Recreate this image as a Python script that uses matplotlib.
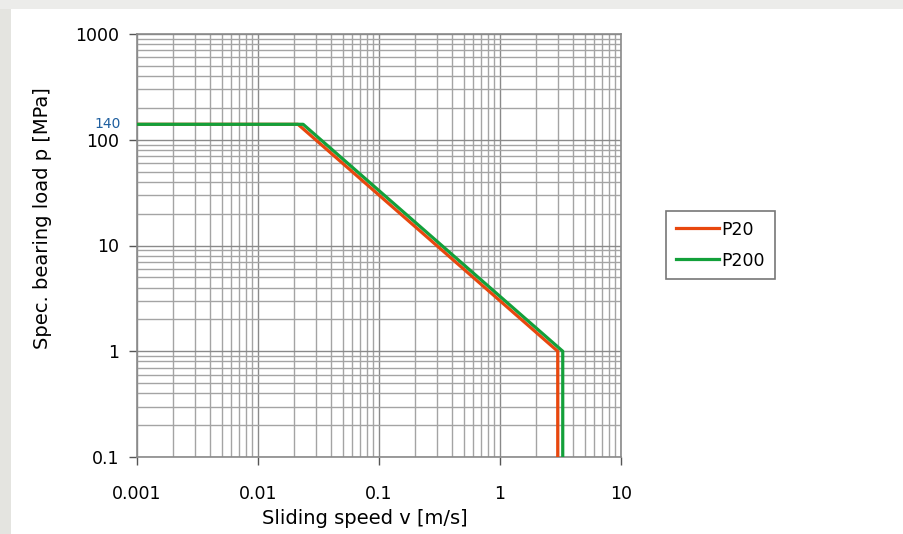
import numpy as np
import matplotlib
matplotlib.use("Agg")
import matplotlib.pyplot as plt
from matplotlib.patches import Rectangle
from matplotlib.ticker import LogLocator, NullFormatter

plt.rcParams['font.family'] = ['DejaVu Sans']

# data
p20_v = [0.001, 0.0214, 3.0, 3.0]
p20_p = [140, 140, 1.0, 0.1]
p200_v = [0.001, 0.0236, 3.3, 3.3]
p200_p = [140, 140, 1.0, 0.1]

x_ticks = [0.001, 0.01, 0.1, 1, 10]
x_labels = ["0.001", "0.01", "0.1", "1", "10"]
y_ticks = [0.1, 1, 10, 100, 1000]
y_labels = ["0.1", "1", "10", "100", "1000"]

fig = plt.figure(figsize=(9.04, 5.34), dpi=100)
fig.patch.set_facecolor('white')
# grey page strips on the left and top
fig.patches.append(Rectangle((0, 0), 11/904, 1, transform=fig.transFigure,
                             facecolor='#e4e4e0', edgecolor='none'))
fig.patches.append(Rectangle((0, 1 - 9/534), 1, 9/534, transform=fig.transFigure,
                             facecolor='#ececea', edgecolor='none'))

ax = fig.add_axes([137/904, 77/534, 484/904, 423/534])
ax.set_xscale('log')
ax.set_yscale('log')
ax.set_xlim(0.001, 10)
ax.set_ylim(0.1, 1000)

ax.plot(p20_v, p20_p, color='#e8470e', lw=2.3, label='P20', zorder=3)
ax.plot(p200_v, p200_p, color='#13a03a', lw=2.3, label='P200', zorder=4)

ax.set_xticks(x_ticks)
ax.set_xticklabels(x_labels)
ax.set_yticks(y_ticks)
ax.set_yticklabels(y_labels)
ax.xaxis.set_minor_locator(LogLocator(base=10, subs=np.arange(2, 10)))
ax.yaxis.set_minor_locator(LogLocator(base=10, subs=np.arange(2, 10)))
ax.xaxis.set_minor_formatter(NullFormatter())
ax.yaxis.set_minor_formatter(NullFormatter())
ax.tick_params(which='minor', length=0)
ax.tick_params(which='major', length=6, width=1, color='#555555', labelsize=12.5)
ax.tick_params(axis='y', pad=7)
ax.tick_params(axis='x', pad=14)

ax.grid(True, which='major', color='#8a8a8a', lw=1)
ax.grid(True, which='minor', color='#a4a4a4', lw=1)
ax.set_axisbelow(True)
for s in ax.spines.values():
    s.set_color('#8a8a8a')
    s.set_linewidth(1.2)

ax.text(-16/484, 140, '140', transform=ax.get_yaxis_transform(), ha='right', va='center',
        fontsize=10, color='#1f5f9f')

ax.set_xlabel('Sliding speed v [m/s]', fontsize=14)
ax.xaxis.set_label_coords((365 - 137) / 484, -(509 - 457) / 423)
ax.set_ylabel('Spec. bearing load p [MPa]', fontsize=14)
ax.yaxis.set_label_coords(-(137 - 52) / 484, (457 - 218) / 423)

leg = fig.legend(loc='upper left', bbox_to_anchor=(666/904, 1 - 211/534), fontsize=12.5,
                 frameon=True, fancybox=False, edgecolor='#555555', handlelength=2.5,
                 handletextpad=0.15, borderpad=0.55, labelspacing=0.75, borderaxespad=0)
leg.get_frame().set_linewidth(1.2)

fig.savefig('out.png', dpi=100, facecolor=fig.get_facecolor())
